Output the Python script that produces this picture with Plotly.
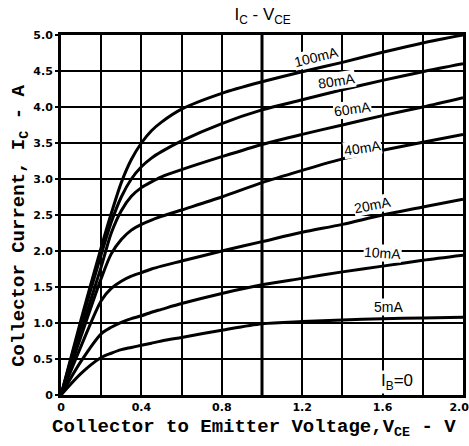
import plotly.graph_objects as go

# ---- data ----
vce = [0, 0.1, 0.2, 0.25, 0.3, 0.35, 0.4, 0.45, 0.5, 0.6, 0.8, 1.0, 1.2, 1.4, 1.6, 1.8, 2.0]

ib_labels = ["100mA", "80mA", "60mA", "40mA", "20mA", "10mA", "5mA"]

ic_100 = [0, 1.05, 2.05, 2.52, 2.95, 3.27, 3.50, 3.67, 3.79, 3.97, 4.19, 4.35, 4.49, 4.62, 4.76, 4.89, 5.00]
ic_80 = [0, 1.00, 1.95, 2.40, 2.75, 3.00, 3.17, 3.29, 3.38, 3.53, 3.77, 3.96, 4.10, 4.24, 4.37, 4.49, 4.60]
ic_60 = [0, 0.90, 1.78, 2.25, 2.56, 2.76, 2.88, 2.96, 3.03, 3.13, 3.31, 3.48, 3.62, 3.75, 3.88, 4.00, 4.13]
ic_40 = [0, 0.82, 1.62, 1.96, 2.16, 2.29, 2.37, 2.43, 2.48, 2.57, 2.75, 2.95, 3.12, 3.28, 3.40, 3.51, 3.62]
ic_20 = [0, 0.68, 1.31, 1.48, 1.58, 1.65, 1.70, 1.75, 1.79, 1.86, 2.00, 2.13, 2.26, 2.37, 2.50, 2.61, 2.72]
ic_10 = [0, 0.47, 0.85, 0.94, 1.01, 1.06, 1.10, 1.15, 1.19, 1.27, 1.41, 1.53, 1.62, 1.71, 1.79, 1.87, 1.94]
ic_5 = [0, 0.30, 0.52, 0.58, 0.63, 0.66, 0.69, 0.72, 0.75, 0.80, 0.90, 0.99, 1.02, 1.04, 1.06, 1.07, 1.08]

series = [ic_100, ic_80, ic_60, ic_40, ic_20, ic_10, ic_5]

# label positions (V, A) and rotation
label_x = [1.27, 1.37, 1.45, 1.50, 1.55, 1.60, 1.63, 1.67]
label_y = [4.69, 4.36, 3.97, 3.43, 2.64, 1.97, 1.22, 0.18]
label_angle = [-14, -9, -8, -9, -11, 4, 0, 0]
label_text = ib_labels + ["I<sub>B</sub>=0"]

x_ticks = [0, 0.4, 0.8, 1.2, 1.6, 2.0]
x_tick_text = ["0", "0.4", "0.8", "1.2", "1.6", "2.0\u00a0\u00a0"]
y_ticks = [0, 0.5, 1.0, 1.5, 2.0, 2.5, 3.0, 3.5, 4.0, 4.5, 5.0]
y_tick_text = ["0", "0.5", "1.0", "1.5", "2.0", "2.5", "3.0", "3.5", "4.0", "4.5", "5.0"]
bold_v_lines = [1.0]

x_title = "Collector to Emitter Voltage,V<sub>CE</sub> - V"
y_title = "Collector Current, I<sub>C</sub> - A"
chart_title = "I<sub>C</sub> - V<sub>CE</sub>"

fig = go.Figure()
for name, ic in zip(ib_labels, series):
    fig.add_trace(go.Scatter(
        x=vce, y=ic, mode="lines", name=name,
        line=dict(color="black", width=3, shape="spline", smoothing=0.8),
        showlegend=False, hoverinfo="skip"))

for v in bold_v_lines:
    fig.add_shape(type="line", x0=v, x1=v, y0=0, y1=1, yref="paper",
                  line=dict(color="black", width=3), layer="below")

for tx, ty, ta, tt in zip(label_x, label_y, label_angle, label_text):
    fig.add_annotation(x=tx, y=ty, text=tt, showarrow=False, textangle=ta,
                       bgcolor="white", borderpad=0,
                       font=dict(family="Liberation Sans", size=17 if tt.startswith("I") else 14,
                                 color="black"))

mono = dict(family="Liberation Mono", size=19, color="black", weight="bold")
# axis titles as paper-anchored annotations
fig.add_annotation(xref="paper", yref="paper", x=0.48, y=-0.092, text=x_title,
                   showarrow=False, xanchor="center", yanchor="middle", font=mono)
fig.add_annotation(xref="paper", yref="paper", x=-0.102, y=0.47, text=y_title,
                   showarrow=False, xanchor="center", yanchor="middle", textangle=-90,
                   font=mono)

fig.update_layout(
    width=469, height=446,
    margin=dict(l=61, r=6, t=35, b=51, autoexpand=False),
    paper_bgcolor="white", plot_bgcolor="white",
    title=dict(text=chart_title, x=0.56, xanchor="center",
               y=0.968, yanchor="middle",
               font=dict(family="Liberation Sans", size=17, color="black")),
)
fig.update_xaxes(
    range=[0, 2.0], tickvals=x_ticks, ticktext=x_tick_text, automargin=False,
    ticklabeloverflow="allow",
    showgrid=True, gridcolor="black", gridwidth=2,
    minor=dict(dtick=0.2, showgrid=True, gridcolor="black", gridwidth=2),
    showline=True, linecolor="black", linewidth=3, mirror=True,
    ticks="", zeroline=False,
    tickfont=dict(family="DejaVu Sans", size=11, color="black", weight="bold"),
)
fig.update_yaxes(
    range=[0, 5.0], tickvals=y_ticks, ticktext=y_tick_text, automargin=False,
    showgrid=True, gridcolor="black", gridwidth=2,
    showline=True, linecolor="black", linewidth=3, mirror=True,
    ticks="outside", ticklen=3, tickwidth=2, tickcolor="black", zeroline=False,
    tickfont=dict(family="DejaVu Sans", size=11, color="black", weight="bold"),
)

fig.write_html("out.html", config={"displayModeBar": False},
               post_script="document.body.style.margin='0';")
